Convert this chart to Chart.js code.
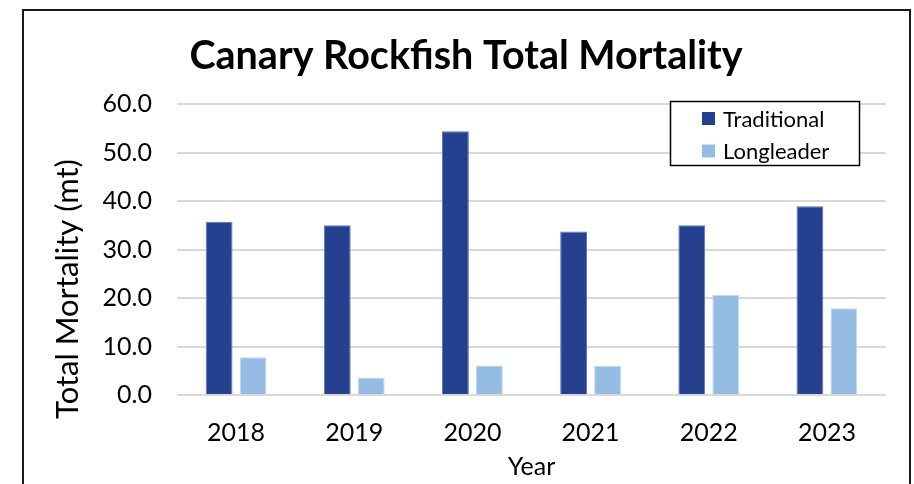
<!DOCTYPE html>
<html>
<head>
<meta charset="utf-8">
<script src="https://cdn.jsdelivr.net/npm/chart.js@4/dist/chart.umd.min.js"></script>
<style>
  html, body { margin: 0; padding: 0; background: #ffffff; }
  #wrap { width: 914px; height: 484px; position: relative; }
</style>
</head>
<body>
<div id="wrap"><canvas id="c" width="914" height="484"></canvas></div>
<script>
// ---- data ----
const categories = ['2018', '2019', '2020', '2021', '2022', '2023'];
const traditional = [35.7, 35.0, 54.4, 33.7, 35.0, 38.9];
const longleader = [7.8, 3.6, 6.1, 6.0, 20.6, 17.9];
const seriesNames = ['Traditional', 'Longleader'];
const yTickLabels = ['0.0', '10.0', '20.0', '30.0', '40.0', '50.0', '60.0'];
const chartTitle = 'Canary Rockfish Total Mortality';
const xTitle = 'Year';
const yTitle = 'Total Mortality (mt)';

const FONT = 'Lato, "Open Sans", sans-serif';

const frame = {
  id: 'frame',
  beforeDraw(chart) {
    const ctx = chart.ctx;
    ctx.save();
    ctx.fillStyle = '#ffffff';
    ctx.fillRect(0, 0, chart.width, chart.height);
    ctx.strokeStyle = '#1a1a1a';
    ctx.lineWidth = 2;
    ctx.strokeRect(23, 10, 887, 490);
    ctx.restore();
  }
};

// y-axis title, placed where the reference puts it (below the plot centre)
const yAxisTitle = {
  id: 'yAxisTitle',
  afterDraw(chart) {
    const ctx = chart.ctx;
    const t = chart.options.scales.y.title;
    ctx.save();
    ctx.translate(68, 289);
    ctx.rotate(-Math.PI / 2);
    ctx.font = '31px ' + FONT;
    ctx.fillStyle = '#000000';
    ctx.textAlign = 'center';
    ctx.textBaseline = 'middle';
    ctx.fillText(t.text, 0, 0);
    ctx.restore();
  }
};

const boxLegend = {
  id: 'boxLegend',
  afterDraw(chart) {
    const ctx = chart.ctx;
    ctx.save();
    ctx.fillStyle = '#ffffff';
    ctx.fillRect(670, 101, 190, 65);
    ctx.strokeStyle = '#000000';
    ctx.lineWidth = 1.5;
    ctx.strokeRect(670.5, 101.5, 189, 64);
    const ys = [118.5, 151];
    ctx.font = '22px ' + FONT;
    ctx.textBaseline = 'middle';
    ctx.textAlign = 'left';
    chart.data.datasets.forEach((ds, i) => {
      ctx.fillStyle = ds.backgroundColor;
      ctx.fillRect(702, ys[i] - 6.5, 13, 13);
      ctx.fillStyle = '#000000';
      ctx.fillText(ds.label, 723, ys[i] + 1);
    });
    ctx.restore();
  }
};

new Chart(document.getElementById('c'), {
  type: 'bar',
  data: {
    labels: categories,
    datasets: [
      { label: seriesNames[0], data: traditional, backgroundColor: '#25408F', borderColor: '#5D76B9', borderWidth: 1 },
      { label: seriesNames[1], data: longleader, backgroundColor: '#95BDE3', borderColor: '#C2DAF1', borderWidth: 1 }
    ]
  },
  plugins: [frame, yAxisTitle, boxLegend],
  options: {
    responsive: false,
    animation: false,
    devicePixelRatio: 1,
    layout: { padding: { left: 46, right: 28, top: 0, bottom: 0 } },
    datasets: { bar: { categoryPercentage: 0.575, barPercentage: 0.79 } },
    plugins: {
      legend: { display: false },
      tooltip: { enabled: false },
      title: {
        display: true,
        text: chartTitle,
        color: '#000000',
        font: { family: FONT, size: 39.5, weight: 'bold', lineHeight: 1.2 },
        padding: { top: 32.8, bottom: 23.8 }
      }
    },
    scales: {
      x: {
        grid: { display: false, drawTicks: false },
        border: { display: false },
        ticks: { color: '#000000', font: { family: FONT, size: 25 }, padding: 23, maxRotation: 0 },
        title: { display: true, text: xTitle, color: '#000000', font: { family: FONT, size: 25 }, padding: { top: 0, bottom: 2 } },
        afterFit(scale) { scale.height = 89; }
      },
      y: {
        min: 0,
        max: 60,
        grid: { color: '#D9D9D9', lineWidth: 2, drawTicks: false },
        border: { display: false },
        ticks: {
          stepSize: 10,
          color: '#000000',
          font: { family: FONT, size: 25 },
          padding: 25,
          callback: (v) => yTickLabels[Math.round(v / 10)]
        },
        title: { display: false, text: yTitle },
        afterFit(scale) { scale.width = 131; }
      }
    }
  }
});
</script>
</body>
</html>
